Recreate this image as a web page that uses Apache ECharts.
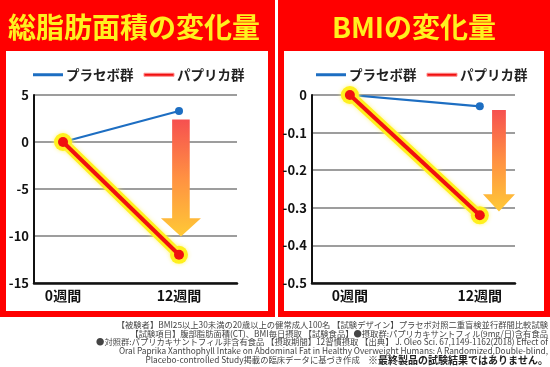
<!DOCTYPE html>
<html>
<head>
<meta charset="utf-8">
<script src="https://cdn.jsdelivr.net/npm/echarts@6/dist/echarts.min.js"></script>
<style>html,body{margin:0;padding:0;background:#fff;}#c{width:550px;height:367px;}</style>
</head>
<body>
<div id="c"></div>
<script>
// ---- data ----
const weeks = [0, 12];
const weekLabels = ['0週間', '12週間'];
const seriesNames = ['プラセボ群', 'パプリカ群'];
const fatPlacebo = [0, 3.3];
const fatPaprika = [0, -12];
const bmiPlacebo = [0, -0.03];
const bmiPaprika = [0, -0.32];
const titles = ['総脂肪面積の変化量', 'BMIの変化量'];
const footLines = [
  '【被験者】BMI25以上30未満の20歳以上の健常成人100名 【試験デザイン】プラセボ対照二重盲検並行群間比較試験',
  '【試験項目】腹部脂肪面積(CT)、BMI毎日摂取 【試験食品】●摂取群:パプリカキサントフィル(9mg/日)含有食品',
  '●対照群:パプリカキサントフィル非含有食品 【摂取期間】12習慣摂取 【出典】 J. Oleo Sci. 67,1149-1162(2018) Effect of',
  'Oral Paprika Xanthophyll Intake on Abdominal Fat in Healthy Overweight Humans: A Randomized,Double-blind,'
];
const footLast = 'Placebo-controlled Study掲載の臨床データに基づき作成';
const footNote = '※最終製品の試験結果ではありません。';

// ---- styles ----
const FONT = '"Noto Sans CJK JP", "Noto Sans", sans-serif';
const BLUE = '#1d6ec2';
const RED = '#f01010';
const YEL = '#fff01e';

const pts = (ys) => weeks.map((w, i) => [w, ys[i]]);

const chart = echarts.init(document.getElementById('c'), null, {renderer: 'canvas'});

function xAxisCfg(gi, min, max) {
  return {
    type: 'value', gridIndex: gi, min: min, max: max,
    axisLine: {show: true, onZero: false, lineStyle: {color: '#111', width: 2.5}},
    axisTick: {show: false},
    splitLine: {show: false},
    axisLabel: {
      customValues: weeks,
      formatter: (v) => { const i = weeks.indexOf(v); return i >= 0 ? weekLabels[i] : ''; },
      color: '#111', fontSize: 14, fontWeight: 'bold', fontFamily: FONT, margin: 6
    }
  };
}
function yAxisCfg(gi, min, max, interval) {
  return {
    type: 'value', gridIndex: gi, min: min, max: max, interval: interval,
    axisLine: {show: true, onZero: false, lineStyle: {color: '#111', width: 2}},
    axisTick: {show: false},
    splitLine: {show: true, lineStyle: {color: '#7c7c7c', width: 1.5}},
    axisLabel: {color: '#111', fontSize: 13, fontWeight: 'bold', fontFamily: FONT, margin: 5}
  };
}
function legendCfg(left) {
  return {
    left: left, top: 68, padding: 0, itemWidth: 30, itemHeight: 3, itemGap: 10,
    selectedMode: false,
    textStyle: {fontSize: 13.5, fontWeight: 'bold', color: '#222', fontFamily: FONT, padding: [0, 0, 0, -2]},
    data: [
      {name: seriesNames[0], icon: 'rect', itemStyle: {color: BLUE}},
      {name: seriesNames[1], icon: 'rect', itemStyle: {color: RED, borderColor: '#ff8c8c', borderWidth: 1}}
    ]
  };
}
function seriesSet(gi, placebo, paprika) {
  return [
    {
      name: seriesNames[0], type: 'line', xAxisIndex: gi, yAxisIndex: gi, data: pts(placebo),
      symbol: 'circle', symbolSize: 8, lineStyle: {color: BLUE, width: 2.2},
      itemStyle: {color: BLUE}, z: 3, silent: true, emphasis: {disabled: true}
    },
    {
      name: '_glow' + gi, type: 'line', xAxisIndex: gi, yAxisIndex: gi, data: pts(paprika),
      symbol: 'circle', symbolSize: 18,
      lineStyle: {color: YEL, width: 10, shadowBlur: 4, shadowColor: 'rgba(255,245,120,0.9)'},
      itemStyle: {color: YEL, shadowBlur: 4, shadowColor: 'rgba(255,245,120,0.9)'},
      z: 4, silent: true, emphasis: {disabled: true}
    },
    {
      name: seriesNames[1], type: 'line', xAxisIndex: gi, yAxisIndex: gi, data: pts(paprika),
      symbol: 'circle', symbolSize: 10, lineStyle: {color: RED, width: 4},
      itemStyle: {color: RED}, z: 5, silent: true, emphasis: {disabled: true}
    }
  ];
}

chart.setOption({
  animation: false,
  textStyle: {fontFamily: FONT},
  legend: [legendCfg(33), legendCfg(316)],
  grid: [
    {left: 34, right: 313, top: 95, bottom: 84},
    {left: 312, right: 35, top: 95, bottom: 84}
  ],
  xAxis: [xAxisCfg(0, -3, 18), xAxisCfg(1, -3.5, 15.25)],
  yAxis: [yAxisCfg(0, -15, 5, 5), yAxisCfg(1, -0.5, 0, 0.1)],
  series: [...seriesSet(0, fatPlacebo, fatPaprika), ...seriesSet(1, bmiPlacebo, bmiPaprika)]
});

// decorative arrows anchored in data units
const arrowDefs = [
  {gi: 0, x: 12.2, top: 2.4, neck: -8.1, tip: -10.05, sw: 8.8, hw: 20},
  {gi: 1, x: 13.77, top: -0.04, neck: -0.264, tip: -0.31, sw: 6.9, hw: 16}
];
const arrows = arrowDefs.map(a => {
  const pT = chart.convertToPixel({gridIndex: a.gi}, [a.x, a.top]);
  const pN = chart.convertToPixel({gridIndex: a.gi}, [a.x, a.neck]);
  const pP = chart.convertToPixel({gridIndex: a.gi}, [a.x, a.tip]);
  const cx = pT[0];
  return {
    type: 'polygon', z: 1,
    shape: {points: [
      [cx - a.sw, pT[1]], [cx + a.sw, pT[1]], [cx + a.sw, pN[1]], [cx + a.hw, pN[1]],
      [cx, pP[1]], [cx - a.hw, pN[1]], [cx - a.sw, pN[1]]
    ]},
    style: {fill: new echarts.graphic.LinearGradient(0, 0, 0, 1, [
      {offset: 0, color: '#f65050'}, {offset: 0.5, color: '#ff9142'}, {offset: 1, color: '#ffc936'}
    ])}
  };
});

const footYs = [325, 333.5, 342, 350.5];
const footText = footLines.map((t, i) => ({
  type: 'text', x: 548, y: footYs[i], z: 10,
  style: {text: t, fill: '#444', font: '8.3px ' + FONT, align: 'right', verticalAlign: 'middle'}
}));
footText.push({
  type: 'text', x: 548, y: 360, z: 10,
  style: {
    text: '{a|' + footLast + '　}{b|' + footNote + '}', align: 'right', verticalAlign: 'middle',
    rich: {
      a: {fontSize: 8.3, fill: '#444', fontFamily: FONT},
      b: {fontSize: 10, fontWeight: 'bold', fill: '#222', fontFamily: FONT}
    }
  }
});

chart.setOption({
  graphic: [
    {type: 'rect', z: -10, shape: {x: 0, y: 0, width: 275, height: 317}, style: {fill: '#ff0000'}},
    {type: 'rect', z: -9, shape: {x: 6, y: 51, width: 262, height: 260}, style: {fill: '#ffffff'}},
    {type: 'rect', z: -10, shape: {x: 278, y: 0, width: 272, height: 317}, style: {fill: '#ff0000'}},
    {type: 'rect', z: -9, shape: {x: 284, y: 51, width: 260, height: 260}, style: {fill: '#ffffff'}},
    {type: 'text', x: 134, y: 27, z: 10, style: {text: titles[0], fill: YEL, font: 'bold 28px ' + FONT, align: 'center', verticalAlign: 'middle'}},
    {type: 'text', x: 414, y: 27, z: 10, style: {text: titles[1], fill: YEL, font: 'bold 28px ' + FONT, align: 'center', verticalAlign: 'middle'}},
    ...arrows,
    ...footText
  ]
});
</script>
</body>
</html>
